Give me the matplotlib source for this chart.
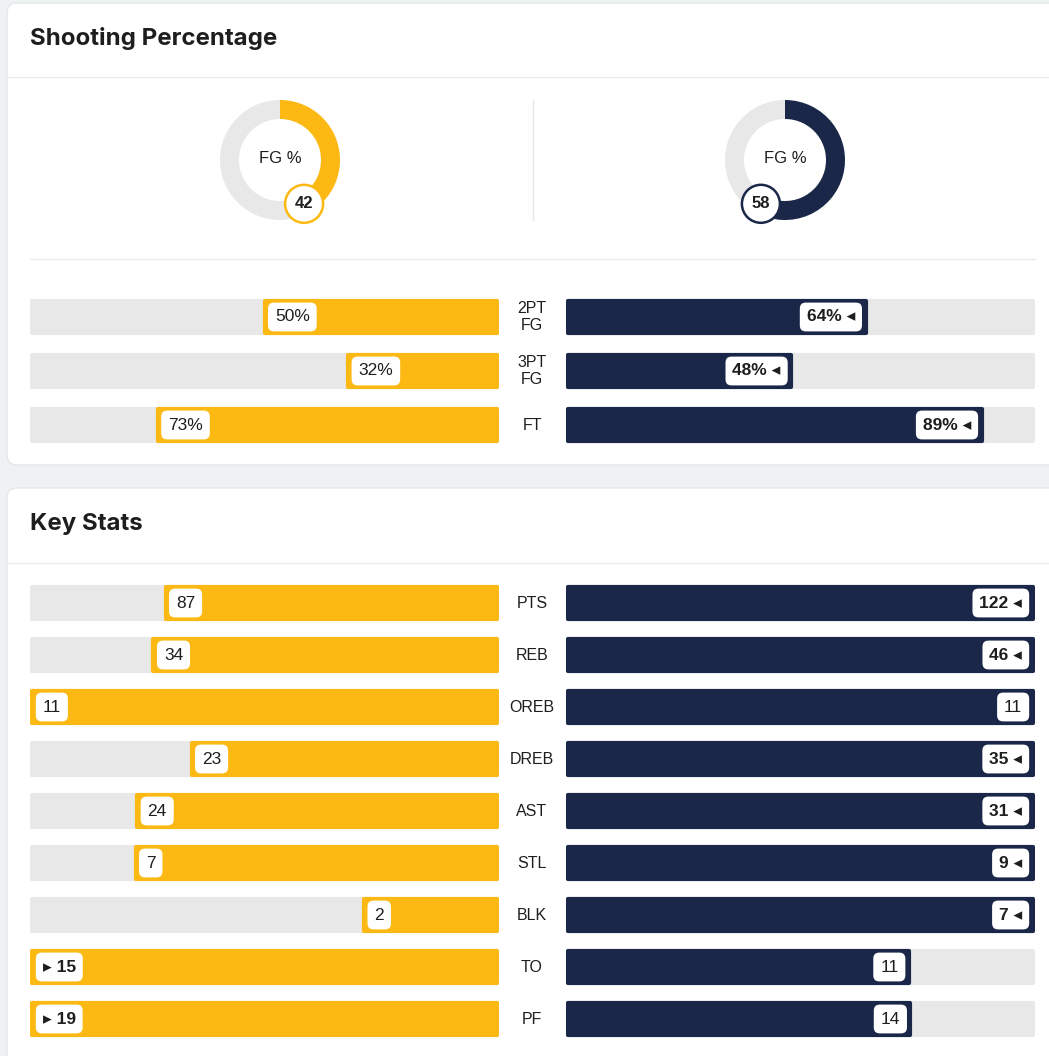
import matplotlib
matplotlib.use("Agg")
from matplotlib import pyplot as plt
from matplotlib.patches import FancyBboxPatch, Circle
import numpy as np

W, H = 1049, 1056

YELLOW = '#FDB913'
NAVY = '#1B2749'
TRACK = '#E8E8E8'
PAGE = '#EFF2F3'
TEXT = '#1E1E1E'

# data
fg_left = 42
fg_right = 58

shoot_labels = ['2PT\nFG', '3PT\nFG', 'FT']
shoot_left = [50, 32, 73]
shoot_right = [64, 48, 89]

stat_labels = ['PTS', 'REB', 'OREB', 'DREB', 'AST', 'STL', 'BLK', 'TO', 'PF']
stat_left = [87, 34, 11, 23, 24, 7, 2, 15, 19]
stat_right = [122, 46, 11, 35, 31, 9, 7, 11, 14]

FONT = ['Liberation Sans', 'DejaVu Sans']
plt.rcParams['font.family'] = FONT

fig = plt.figure(figsize=(W / 100, H / 100), dpi=100)
fig.patch.set_facecolor(PAGE)


def px_axes(x0, y0, x1, y1):
    return fig.add_axes([x0 / W, 1 - y1 / H, (x1 - x0) / W, (y1 - y0) / H])


bg = px_axes(0, 0, W, H)
bg.set_xlim(0, W)
bg.set_ylim(H, 0)
bg.axis('off')

# cards
for y0, y1 in [(3, 465), (488, 1080)]:
    bg.add_patch(FancyBboxPatch((7, y0), 1080, y1 - y0,
                                boxstyle='round,pad=0,rounding_size=10',
                                facecolor='white', edgecolor='#E3E7E9', lw=1))
bg.plot([7, W], [77, 77], color='#EBEBEB', lw=1)
bg.plot([7, W], [563, 563], color='#EBEBEB', lw=1)
bg.plot([30, 1035], [259, 259], color='#EBEBEB', lw=1)
bg.plot([533, 533], [100, 220], color='#E6E6E6', lw=1)

bg.text(30, 38, 'Shooting Percentage', fontsize=17.3, fontweight='bold',
        family=['Inter', 'DejaVu Sans'], color=TEXT, va='center', ha='left')
bg.text(30, 524, 'Key Stats', fontsize=17.3, fontweight='bold',
        family=['Inter', 'DejaVu Sans'], color=TEXT, va='center', ha='left')


def donut(cx, cy, value, color):
    r = 60
    ax = px_axes(cx - 70, cy - 70, cx + 70, cy + 70)
    ax.pie([value, 100 - value], colors=[color, TRACK], startangle=90,
           counterclock=False, radius=1,
           wedgeprops=dict(width=19 / r, edgecolor='none'))
    ax.set_xlim(-70 / r, 70 / r)
    ax.set_ylim(-70 / r, 70 / r)
    ax.set_aspect('equal')
    ax.axis('off')
    ax.text(0, 0.02, 'FG %', ha='center', va='center', fontsize=12, color=TEXT)
    ang = np.deg2rad(90 - value / 100 * 360)
    bx, by = (50 / r) * np.cos(ang), (50 / r) * np.sin(ang)
    ax.add_patch(Circle((bx, by), 19 / r, facecolor='white', edgecolor=color, lw=1.8, zorder=5))
    ax.text(bx, by, str(value), ha='center', va='center', fontsize=12,
            fontweight='bold', color=TEXT, zorder=6)


donut(280, 160, fg_left, YELLOW)
donut(785, 160, fg_right, NAVY)


def bar_rows(top, step, labels, left, right, scale, suffix=''):
    n = len(labels)
    bottom = top + n * step
    bh = 32 / step
    axl = px_axes(30, top, 499, bottom)
    axr = px_axes(566, top, 1035, bottom)
    ys = np.arange(n)
    lv = np.array(left, dtype=float) / scale
    rv = np.array(right, dtype=float) / scale
    for ax, vals, color in [(axl, lv, YELLOW), (axr, rv, NAVY)]:
        ax.barh(ys, np.ones(n), height=bh, color=TRACK, edgecolor=TRACK,
                lw=3, joinstyle='round')
        ax.barh(ys, vals, height=bh, color=color, edgecolor=color,
                lw=3, joinstyle='round')
        ax.set_ylim(n - 0.5, -0.5)
        ax.axis('off')
    axl.set_xlim(1.005, -0.005)
    axr.set_xlim(-0.005, 1.005)

    box = dict(boxstyle='round,pad=0.45,rounding_size=0.4', facecolor='white', lw=1.3)
    for i in range(n):
        lwin = left[i] > right[i]
        rwin = right[i] > left[i]
        ltxt = ('▸ ' if lwin else '') + f'{left[i]}{suffix}'
        rtxt = f'{right[i]}{suffix}' + (' ◂' if rwin else '')
        axl.annotate(ltxt, xy=(lv[i], i), xytext=(7.5, 0), textcoords='offset points',
                     ha='left', va='center', fontsize=12.5, color=TEXT,
                     fontweight='bold' if lwin else 'normal',
                     bbox=dict(box, edgecolor=YELLOW))
        axr.annotate(rtxt, xy=(rv[i], i), xytext=(-7.5, 0), textcoords='offset points',
                     ha='right', va='center', fontsize=12.5, color=TEXT,
                     fontweight='bold' if rwin else 'normal',
                     bbox=dict(box, edgecolor=NAVY))
        bg.text(532, top + (i + 0.5) * step, labels[i], ha='center', va='center',
                fontsize=11.5, color=TEXT, linespacing=1.15)


bar_rows(290, 54, shoot_labels, shoot_left, shoot_right, 100.0, suffix='%')
stat_scale = np.maximum(stat_left, stat_right)
bar_rows(577, 52, stat_labels, stat_left, stat_right, stat_scale)

fig.savefig('out.png', dpi=100, facecolor=PAGE)
